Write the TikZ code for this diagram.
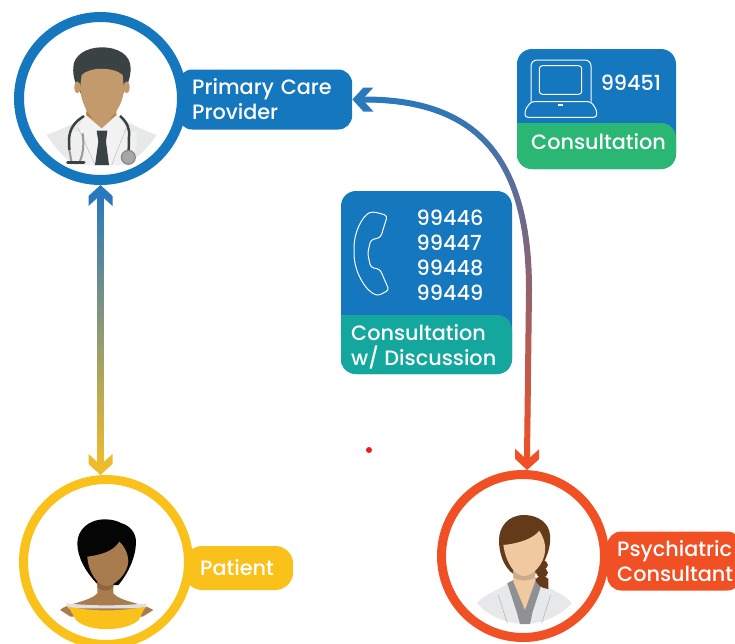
\documentclass[tikz,border=0pt]{standalone}
\usepackage{fontspec}
\setmainfont{Poppins}[UprightFont={* Medium}]
\usetikzlibrary{calc}
\definecolor{careblue}{HTML}{1577BD}
\definecolor{linkblue}{HTML}{2A78BD}
\definecolor{patyellow}{HTML}{FBC11B}
\definecolor{linkyellow}{HTML}{EFBB2C}
\definecolor{psyorange}{HTML}{F15025}
\definecolor{consgreen}{HTML}{2AB673}
\definecolor{discteal}{HTML}{14A79D}
\definecolor{dotred}{HTML}{ED1C24}
\definecolor{drhair}{HTML}{3A4244}
\definecolor{drskin}{HTML}{C29A6B}
\definecolor{drneck}{HTML}{A97F52}
\definecolor{ptskin}{HTML}{A87C4F}
\definecolor{ptneck}{HTML}{8F6640}
\definecolor{pshair}{HTML}{633A1A}
\definecolor{psskin}{HTML}{F0C9A0}
\definecolor{coatgrey}{HTML}{E7E8E9}
\definecolor{collargrey}{HTML}{8E9093}
\pgfdeclarearrow{
  name=Chevron,
  setup code={
    \pgfarrowssettipend{0pt}
    \pgfarrowssetbackend{-21pt}
    \pgfarrowssetlineend{-8pt}
    \pgfarrowssetvisualbackend{-10pt}
  },
  drawing code={
    \pgfpathmoveto{\pgfqpoint{0pt}{0pt}}
    \pgfpathlineto{\pgfqpoint{-11pt}{12pt}}
    \pgfpathlineto{\pgfqpoint{-21pt}{12pt}}
    \pgfpathlineto{\pgfqpoint{-10pt}{0pt}}
    \pgfpathlineto{\pgfqpoint{-21pt}{-12pt}}
    \pgfpathlineto{\pgfqpoint{-11pt}{-12pt}}
    \pgfpathclose
    \pgfusepathqfill
  }
}
\tikzset{
  person/.style={circle, draw, fill=white, line width=#1, inner sep=0},
  tag/.style={rounded corners=14pt, text=white, align=left, anchor=west, inner ysep=0,
    font=\fontsize{20.8}{25}\selectfont},
  linktip/.style={line width=5pt, -Chevron},
  cardtext/.style={text=white, align=left, inner sep=0, font=\fontsize{20.8}{25}\selectfont},
  icon/.style={draw=white, line width=1pt}
}
\begin{document}
\begin{tikzpicture}[x=1pt,y=-1pt]
  \clip (0,0) rectangle (735,643);

  % labels go under the rings
  \node [tag, fill=careblue, inner xsep=14pt, text width=146pt, minimum height=60pt] (pcarelabel) at (178,99.5) {Primary Care\\Provider};
  \node [tag, fill=patyellow, inner xsep=16pt, text width=77pt, minimum height=44pt, rounded corners=18pt] (patientlabel) at (184,568) {Patient};
  \node [tag, fill=psyorange, inner xsep=10pt, text width=114pt, minimum height=59pt] (psychlabel) at (607,561) {Psychiatric\\Consultant};

  \node [person=10pt, draw=careblue, minimum size=163pt] (pcare) at (100.5,98.5) {};
  \node [person=9pt, draw=patyellow, minimum size=165pt] (patient) at (106,562) {};
  \node [person=9pt, draw=psyorange, minimum size=163pt] (psych) at (523,556) {};

  % connectors: heads first, gradient band on top
  \coordinate (vmid) at (pcare.south |- 0,330);
  \coordinate (patin) at (pcare.south |- patient.north);
  \coordinate (bend) at (529,290);
  \coordinate (psyin) at (527,470);
  \draw [linktip, linkblue] (vmid) -- (pcare.south);
  \draw [linktip, linkyellow] (vmid) -- (patin);
  \draw [linktip, linkblue] (bend) .. controls (529,150) and (470,99.5) .. (pcarelabel.east);
  \draw [linktip, psyorange] (bend) -- (psyin);
  \shade [top color=linkblue, bottom color=linkyellow]
    ($(pcare.south)+(-3,12)$) rectangle ($(patin)+(3,-12)$);
  \shade [top color=linkblue, bottom color=psyorange]
    ($(pcarelabel.east)+(12,-3)$) .. controls (472,96.5) and (532,150) .. ($(bend)+(3,0)$)
    -- ($(psyin)+(3,-12)$) -- ($(psyin)+(-3,-12)$) -- ($(bend)+(-3,0)$)
    .. controls (526,153) and (470,102.5) .. ($(pcarelabel.east)+(12,3)$) -- cycle;

  % card 99451
  \fill[careblue, rounded corners=15pt] (517,49) rectangle (676,169);
  \fill[consgreen] (517,123) [rounded corners=15pt] -- (676,123) -- (676,169) -- (517,169) -- (517,150) [sharp corners] -- cycle;
  \node [cardtext] (laptopcode) at (631,83) {99451};
  \node [cardtext, anchor=west] (laptoplabel) at (531,142) {Consultation};
  \begin{scope}[shift={(330,40)}, scale=1/3]
    \draw[icon, rounded corners=6pt] (603,185) -- (603,60) -- (783,60) -- (783,185);
    \draw[icon, rounded corners=3pt] (628,77) rectangle (755,163);
    \draw[icon, rounded corners=3pt] (603,185) -- (783,185) -- (800,210) -- (800,232) -- (585,232) -- (585,210) -- cycle;
    \fill[white] (683,192) rectangle (700,198);
  \end{scope}

  % card 99446-99449
  \fill[careblue, rounded corners=15pt] (341,191) rectangle (512,374);
  \fill[discteal] (341,315) [rounded corners=15pt] -- (512,315) -- (512,374) -- (341,374) -- (341,350) [sharp corners] -- cycle;
  \node [cardtext, anchor=north west] (phonecodes) at (416.5,209.5) {99446\\99447\\99448\\99449};
  \node [cardtext, anchor=west] (phonelabel) at (351,346.5) {Consultation\\w/ Discussion};
  \begin{scope}[shift={(330,40)}, scale=1/3]
    \draw[icon, rounded corners=3pt] (150,520) -- (172,527) -- (152,592) -- (122,600) -- (113,640) -- (122,682) -- (150,688) -- (177,750) -- (145,767) .. controls (110,755) and (72,700) .. (72,630) .. controls (72,580) and (95,530) .. (125,515) -- cycle;
  \end{scope}

  \node [circle, fill=dotred, minimum size=6pt, inner sep=0] (reddot) at (369,450) {};

  % doctor
  \begin{scope}[scale=1/3]
    \fill[coatgrey] (140,405) .. controls (190,385) and (230,370) .. (255,345) -- (355,345) .. controls (380,370) and (420,385) .. (470,405) .. controls (440,450) and (400,480) .. (385,495) -- (225,495) .. controls (200,480) and (165,445) .. (140,405) -- cycle;
    \fill[black!6] (205,395) -- (410,395) -- (410,440) -- (385,495) -- (225,495) -- (205,470) -- cycle;
    \fill[white!95!black] (255,345) -- (355,345) -- (378,385) -- (345,495) -- (270,495) -- (235,385) -- cycle;
    \draw[black!25, line width=.5pt] (235,385) -- (285,495) (378,385) -- (335,495);
    \fill[drskin] (262,300) -- (345,300) -- (350,345) -- (305,385) -- (258,345) -- cycle;
    \fill[drneck] (262,320) -- (345,320) -- (347,345) .. controls (325,365) and (285,365) .. (260,345) -- cycle;
    \fill[drhair] (242,280) .. controls (225,250) and (218,230) .. (220,200) .. controls (222,165) and (260,142) .. (305,142) .. controls (355,142) and (392,165) .. (392,205) .. controls (392,235) and (380,260) .. (370,280) -- cycle;
    \fill[drskin] (232,262) ellipse [x radius=9, y radius=18];
    \fill[drskin] (380,262) ellipse [x radius=9, y radius=18];
    \fill[drskin] (245,225) .. controls (270,200) and (340,200) .. (368,225) -- (372,265) .. controls (370,320) and (330,366) .. (305,366) .. controls (275,366) and (245,320) .. (240,265) -- cycle;
    \fill[drhair] (290,392) -- (322,392) -- (318,425) -- (327,495) -- (285,495) -- (295,425) -- cycle;
    \draw[drhair, line width=2.5pt] (252,348) .. controls (225,365) and (208,385) .. (207,420) -- (208,450);
    \draw[drhair, line width=2.5pt] (360,348) .. controls (380,365) and (390,385) .. (387,410) -- (386,455);
    \draw[black!40, line width=2pt] (208,450) -- (214,483) (248,400) .. controls (252,430) and (250,460) .. (240,483);
    \draw[drhair, line width=3pt, line cap=round] (203,488) -- (252,488);
    \filldraw[fill=black!35, draw=black!50, line width=1pt] (385,472) circle (21);
  \end{scope}

  % patient
  \begin{scope}[shift={(0,440)}, scale=1/3]
    \fill[black!98] (315,238) .. controls (265,238) and (232,270) .. (232,310) .. controls (232,350) and (255,395) .. (295,435) -- (355,435) .. controls (385,400) and (408,350) .. (408,305) .. controls (408,275) and (385,255) .. (365,250) .. controls (350,242) and (335,238) .. (315,238) -- cycle;
    \fill[ptskin] (180,510) .. controls (200,490) and (270,485) .. (292,460) -- (292,420) -- (340,420) -- (340,460) .. controls (360,485) and (430,490) .. (460,510) -- (428,530) -- (212,530) -- cycle;
    \fill[ptneck] (292,425) -- (340,425) -- (340,442) .. controls (325,455) and (305,455) .. (292,442) -- cycle;
    \fill[ptskin] (262,350) .. controls (300,345) and (340,335) .. (358,305) .. controls (375,320) and (385,345) .. (385,365) .. controls (383,400) and (345,438) .. (320,438) .. controls (295,438) and (265,400) .. (262,350) -- cycle;
    \fill[black!12] (198,490) .. controls (280,498) and (360,498) .. (440,490) -- (436,505) -- (205,505) -- cycle;
    \fill[patyellow] (205,500) .. controls (280,515) and (360,515) .. (436,500) -- (416,540) .. controls (380,575) and (265,578) .. (228,540) -- cycle;
  \end{scope}

  % consultant
  \begin{scope}[shift={(420,440)}, scale=1/3]
    \fill[coatgrey] (172,490) .. controls (185,465) and (240,450) .. (270,425) -- (360,425) .. controls (390,450) and (440,465) .. (455,490) .. controls (420,530) and (360,552) .. (315,552) .. controls (260,552) and (200,525) .. (172,490) -- cycle;
    \draw[black!30, line width=.5pt] (235,465) -- (262,550) (392,465) -- (365,550);
    \fill[collargrey] (262,430) -- (280,420) -- (350,420) -- (365,432) -- (338,515) -- (330,552) -- (300,552) -- (290,515) -- cycle;
    \fill[pshair] (312,225) .. controls (265,225) and (237,260) .. (237,300) .. controls (237,340) and (250,380) .. (280,402) -- (345,402) -- (375,360) .. controls (388,330) and (392,310) .. (390,285) .. controls (388,250) and (355,225) .. (312,225) -- cycle;
    \foreach \by in {375,398,421} {
      \fill[pshair] (366,\by) ellipse [x radius=18, y radius=14];
    }
    \fill[pshair] (345,415) -- (385,415) -- (385,447) .. controls (365,445) and (350,435) .. (345,415) -- cycle;
    \fill[psskin] (280,390) -- (345,390) -- (345,425) -- (315,510) -- (280,425) -- cycle;
    \fill[psskin!85!black] (280,392) -- (345,392) -- (345,412) .. controls (325,425) and (300,425) .. (280,412) -- cycle;
    \fill[psskin] (250,315) .. controls (300,310) and (340,295) .. (358,272) .. controls (372,295) and (378,315) .. (375,335) .. controls (372,370) and (340,408) .. (312,408) .. controls (285,408) and (258,370) .. (250,315) -- cycle;
  \end{scope}
\end{tikzpicture}
\end{document}
